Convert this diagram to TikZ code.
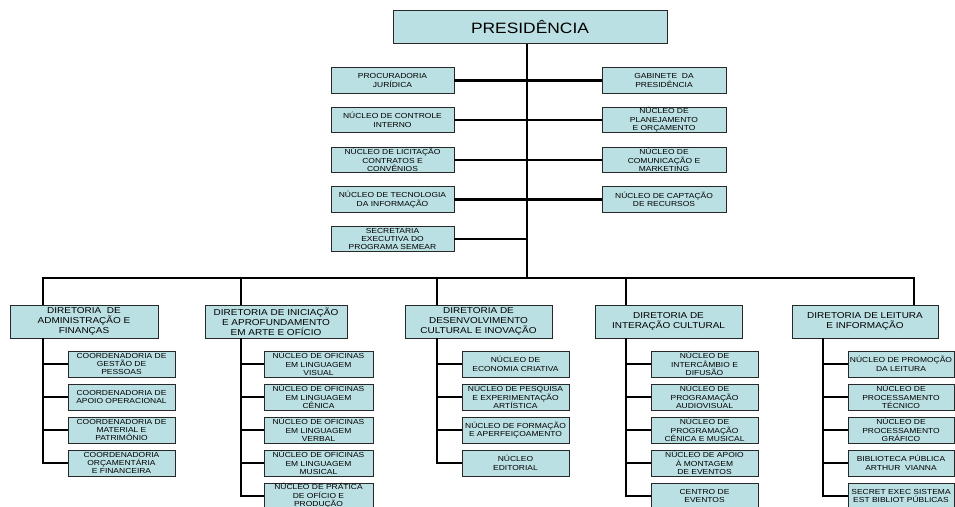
\documentclass[tikz,border=0pt]{standalone}
\usepackage{fontspec}
\setmainfont{Liberation Sans}[FakeStretch=1.16]
\definecolor{boxfill}{RGB}{187,224,227}
\definecolor{boxline}{RGB}{40,40,40}
\begin{document}
\begin{tikzpicture}[x=1pt,y=-1pt,
  box/.style={draw=boxline,line width=0.9pt,fill=boxfill,inner sep=0pt,align=center,
    font=\fontsize{7.3}{8.4}\selectfont},
  staffL/.style={box,minimum width=123,minimum height=25.5},
  staffR/.style={box,minimum width=124,minimum height=25.5},
  dirbox/.style={box,minimum height=33,font=\fontsize{8.6}{9.8}\selectfont},
  subbox/.style={box,minimum height=26},
  link/.style={line width=2.4pt,black,line join=miter}]
\clip (0,0) rectangle (955,506);
\fill[white] (0,0) rectangle (955,506);

% presidency
\node[box,minimum width=274,minimum height=33.5,font=\fontsize{15}{16}\selectfont] (pres) at (530,26.8) {PRESIDÊNCIA};

% staff units
\node[staffL] (l1) at (392.5,80.5) {PROCURADORIA\\JURÍDICA};
\node[staffL] (l2) at (392.5,120) {NÚCLEO DE CONTROLE\\INTERNO};
\node[staffL] (l3) at (392.5,160) {NÚCLEO DE LICITAÇÃO\\CONTRATOS E\\CONVÊNIOS};
\node[staffL] (l4) at (392.5,199.5) {NÚCLEO DE TECNOLOGIA\\DA INFORMAÇÃO};
\node[staffL] (l5) at (392.5,239) {SECRETARIA\\EXECUTIVA DO\\PROGRAMA SEMEAR};
\node[staffR] (r1) at (664,80.5) {GABINETE\ \ DA\\PRESIDÊNCIA};
\node[staffR] (r2) at (664,120) {NÚCLEO DE\\PLANEJAMENTO\\E ORÇAMENTO};
\node[staffR] (r3) at (664,160) {NÚCLEO DE\\COMUNICAÇÃO E\\MARKETING};
\node[staffR] (r4) at (664,199.5) {NÚCLEO DE CAPTAÇÃO\\DE RECURSOS};

% directorates
\node[dirbox,minimum width=148] (d1) at (84,321.5) {DIRETORIA\ \ DE\\ADMINISTRAÇÃO E\\FINANÇAS};
\node[dirbox,minimum width=142] (d2) at (276,321.5) {DIRETORIA DE INICIAÇÃO\\E APROFUNDAMENTO\\EM ARTE E OFÍCIO};
\node[dirbox,minimum width=147] (d3) at (478.5,321.5) {DIRETORIA DE\\DESENVOLVIMENTO\\CULTURAL E INOVAÇÃO};
\node[dirbox,minimum width=147] (d4) at (668.5,321.5) {DIRETORIA DE\\INTERAÇÃO CULTURAL};
\node[dirbox,minimum width=146] (d5) at (865,321.5) {DIRETORIA DE LEITURA\\E INFORMAÇÃO};

% column 1
\node[subbox,minimum width=107] (a1) at (121.5,364) {COORDENADORIA DE\\GESTÃO DE\\PESSOAS};
\node[subbox,minimum width=107] (a2) at (121.5,397) {COORDENADORIA DE\\APOIO OPERACIONAL};
\node[subbox,minimum width=107] (a3) at (121.5,430) {COORDENADORIA DE\\MATERIAL E\\PATRIMÔNIO};
\node[subbox,minimum width=107] (a4) at (121.5,463) {COORDENADORIA\\ORÇAMENTÁRIA\\E FINANCEIRA};
% column 2
\node[subbox,minimum width=109] (b1) at (318.5,364) {NÚCLEO DE OFICINAS\\EM LINGUAGEM\\VISUAL};
\node[subbox,minimum width=109] (b2) at (318.5,397) {NÚCLEO DE OFICINAS\\EM LINGUAGEM\\CÊNICA};
\node[subbox,minimum width=109] (b3) at (318.5,430) {NÚCLEO DE OFICINAS\\EM LINGUAGEM\\VERBAL};
\node[subbox,minimum width=109] (b4) at (318.5,463) {NÚCLEO DE OFICINAS\\EM LINGUAGEM\\MUSICAL};
\node[subbox,minimum width=109] (b5) at (318.5,496) {NÚCLEO DE PRÁTICA\\DE OFÍCIO E\\PRODUÇÃO};
% column 3
\node[subbox,minimum width=107] (c1) at (515.5,364) {NÚCLEO DE\\ECONOMIA CRIATIVA};
\node[subbox,minimum width=107] (c2) at (515.5,397) {NÚCLEO DE PESQUISA\\E EXPERIMENTAÇÃO\\ARTÍSTICA};
\node[subbox,minimum width=107] (c3) at (515.5,430) {NÚCLEO DE FORMAÇÃO\\E APERFEIÇOAMENTO};
\node[subbox,minimum width=107] (c4) at (515.5,463) {NÚCLEO\\EDITORIAL};
% column 4
\node[subbox,minimum width=107] (e1) at (704.5,364) {NÚCLEO DE\\INTERCÂMBIO E\\DIFUSÃO};
\node[subbox,minimum width=107] (e2) at (704.5,397) {NÚCLEO DE\\PROGRAMAÇÃO\\AUDIOVISUAL};
\node[subbox,minimum width=107] (e3) at (704.5,430) {NÚCLEO DE\\PROGRAMAÇÃO\\CÊNICA E MUSICAL};
\node[subbox,minimum width=107] (e4) at (704.5,463) {NÚCLEO DE APOIO\\À MONTAGEM\\DE EVENTOS};
\node[subbox,minimum width=107] (e5) at (704.5,496) {CENTRO DE\\EVENTOS};
% column 5
\node[subbox,minimum width=106] (f1) at (901,364) {NÚCLEO DE PROMOÇÃO\\DA LEITURA};
\node[subbox,minimum width=106] (f2) at (901,397) {NÚCLEO DE\\PROCESSAMENTO\\TÉCNICO};
\node[subbox,minimum width=106] (f3) at (901,430) {NÚCLEO DE\\PROCESSAMENTO\\GRÁFICO};
\node[subbox,minimum width=106] (f4) at (901,463) {BIBLIOTECA PÚBLICA\\ARTHUR\ \ VIANNA};
\node[subbox,minimum width=106] (f5) at (901,496) {SECRET EXEC SISTEMA\\EST BIBLIOT PÚBLICAS};

% trunk and bus
\coordinate (tk) at (527,278);
\coordinate (busL) at (43,278);
\coordinate (busR) at (914,278);
\coordinate (k2) at (241,278);
\coordinate (k3) at (437,278);
\coordinate (k4) at (626,278);
\draw[link] (pres.south -| tk) -- (tk);
\draw[link] (busL |- d1.north) -- (busL) -- (busR) -- (busR |- d5.north);
\foreach \k/\d in {k2/d2,k3/d3,k4/d4} \draw[link] (\k) -- (\k |- \d.north);

% staff connectors
\draw[link] (l1.east) -- (r1.west);
\draw[link] (l2.east) -- (r2.west);
\draw[link] (l3.east) -- (r3.west);
\draw[link] (l4.east) -- (r4.west);
\draw[link] (l5.east) -- (l5.east -| tk);

% column connectors
\coordinate (v1) at (43,0);
\coordinate (v2) at (241,0);
\coordinate (v3) at (437,0);
\coordinate (v4) at (626,0);
\coordinate (v5) at (823,0);
\draw[link] (v1 |- d1.south) -- (v1 |- a4.west) -- (a4.west);
\foreach \s in {a1,a2,a3} \draw[link] (v1 |- \s.west) -- (\s.west);
\draw[link] (v2 |- d2.south) -- (v2 |- b5.west) -- (b5.west);
\foreach \s in {b1,b2,b3,b4} \draw[link] (v2 |- \s.west) -- (\s.west);
\draw[link] (v3 |- d3.south) -- (v3 |- c4.west) -- (c4.west);
\foreach \s in {c1,c2,c3} \draw[link] (v3 |- \s.west) -- (\s.west);
\draw[link] (v4 |- d4.south) -- (v4 |- e5.west) -- (e5.west);
\foreach \s in {e1,e2,e3,e4} \draw[link] (v4 |- \s.west) -- (\s.west);
\draw[link] (v5 |- d5.south) -- (v5 |- f5.west) -- (f5.west);
\foreach \s in {f1,f2,f3,f4} \draw[link] (v5 |- \s.west) -- (\s.west);
\end{tikzpicture}
\end{document}
